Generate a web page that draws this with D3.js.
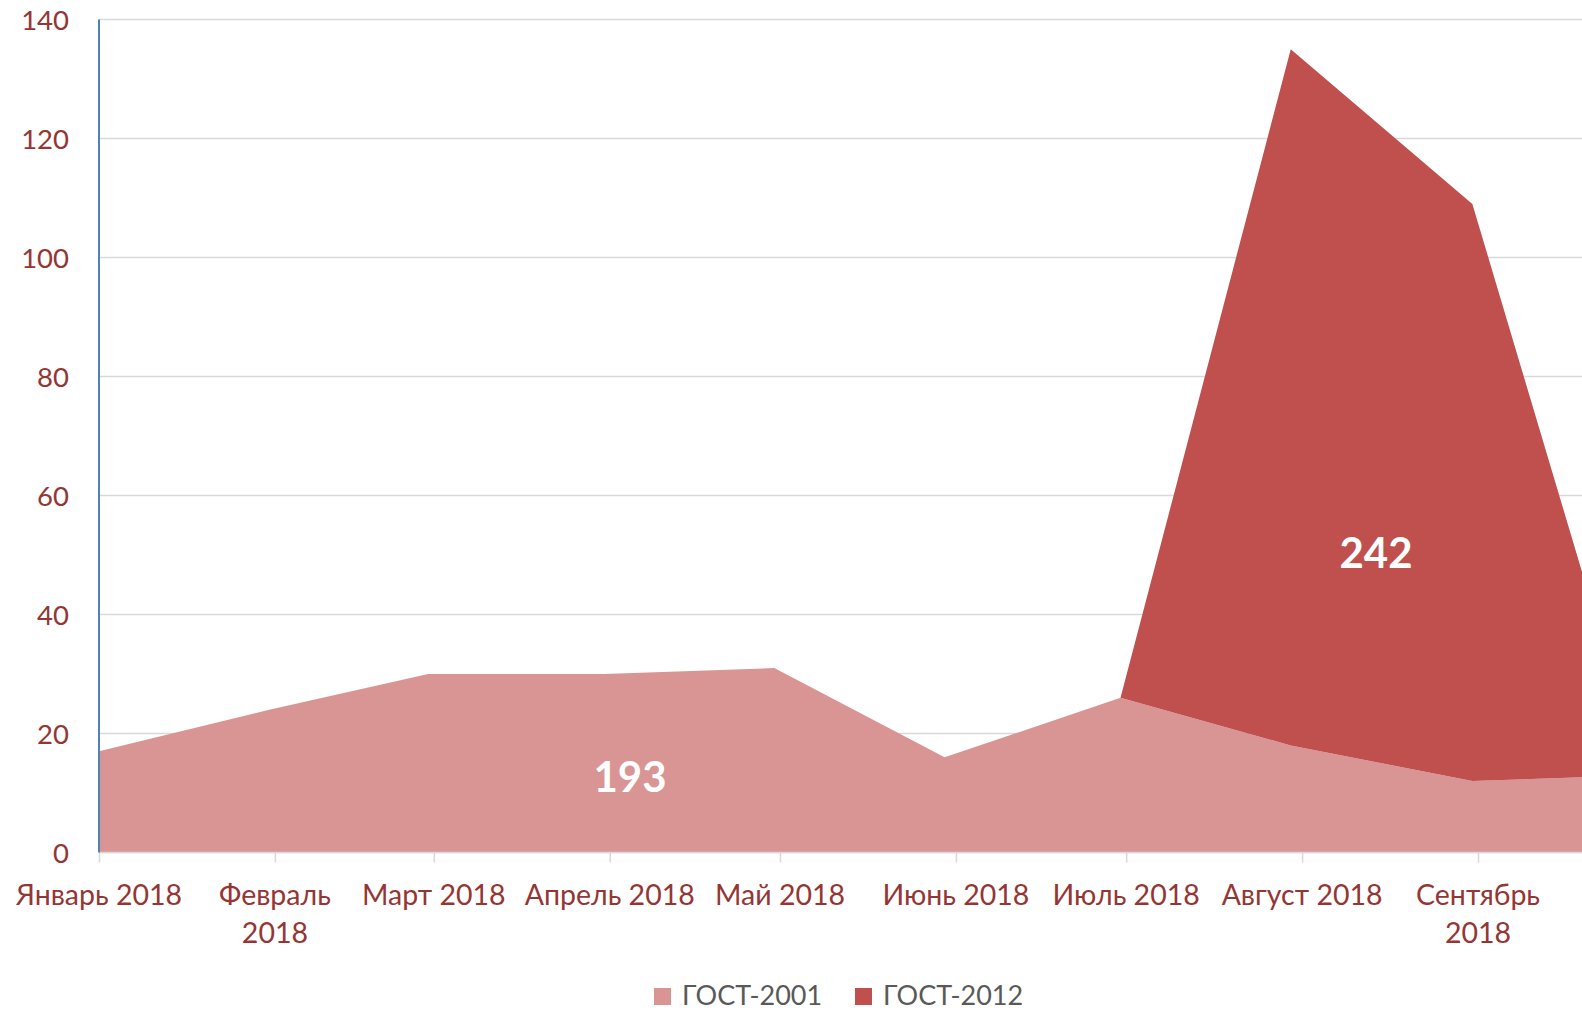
<!DOCTYPE html>
<html>
<head>
<meta charset="utf-8">
<script src="https://cdn.jsdelivr.net/npm/d3@7/dist/d3.min.js"></script>
<style>
  body { margin: 0; background: #fff; }
  text { font-family: Lato, "Open Sans", sans-serif; }
</style>
</head>
<body>
<svg id="chart" width="1582" height="1010"></svg>
<script>
// data (dates are where the points sit on the date axis)
var pointDates = ["2018-01-01", "2018-01-31", "2018-02-28", "2018-03-31", "2018-04-30",
                  "2018-05-30", "2018-06-30", "2018-07-30", "2018-08-31", "2018-09-30"];
var gost2001 = [17, 24, 30, 30, 31, 16, 26, 18, 12, 13];
var gost2012 = [0, 0, 0, 0, 0, 0, 0, 117, 97, 0];
var seriesNames = ["ГОСТ-2001", "ГОСТ-2012"];
var seriesColors = ["#d99594", "#c0504d"];
// october label falls outside the visible picture, so only jan..sep
var tickLabels = [["Январь 2018"], ["Февраль", "2018"], ["Март 2018"], ["Апрель 2018"], ["Май 2018"],
                  ["Июнь 2018"], ["Июль 2018"], ["Август 2018"], ["Сентябрь", "2018"]];
var yTicks = [0, 20, 40, 60, 80, 100, 120, 140];
var areaLabels = ["193", "242"];

var svg = d3.select("#chart");
var width = 1582;

var parse = d3.timeParse("%Y-%m-%d");
var rows = pointDates.map(function(d, i) {
    return { date: parse(d), g2001: gost2001[i], g2012: gost2012[i] };
});

// date axis: about 5.675 px per day, plot starts at x=99 and runs past the right edge
var x = d3.scaleTime()
    .domain([parse("2018-01-01"), parse("2018-10-01")])
    .range([99, 99 + 273 * 5.675]);

var y = d3.scaleLinear()
    .domain([0, 140])
    .range([852.5, 19.5]);

// gridlines
svg.append("g")
    .selectAll("line")
    .data(yTicks)
    .enter().append("line")
    .attr("x1", 99)
    .attr("x2", width)
    .attr("y1", function(d) { return y(d); })
    .attr("y2", function(d) { return y(d); })
    .attr("stroke", "#d9d9d9")
    .attr("stroke-width", 1.5);

// stacked areas
var stack = d3.stack().keys(["g2001", "g2012"]);
var layers = stack(rows);

var area = d3.area()
    .x(function(d) { return x(d.data.date); })
    .y0(function(d) { return y(d[0]); })
    .y1(function(d) { return y(d[1]); });

svg.append("g")
    .selectAll("path")
    .data(layers)
    .enter().append("path")
    .attr("d", area)
    .attr("fill", function(d, i) { return seriesColors[i]; });

// x axis line + ticks
var xAxis = d3.axisBottom(x)
    .ticks(d3.timeMonth.every(1))
    .tickSize(10)
    .tickFormat("");

var xg = svg.append("g")
    .attr("transform", "translate(0," + y(0) + ")")
    .call(xAxis);
xg.select(".domain").attr("stroke", "#d9d9d9").attr("stroke-width", 1.5)
    .attr("d", "M99,0H" + width);
xg.selectAll(".tick line").attr("stroke", "#d9d9d9").attr("stroke-width", 1.5);

// x tick labels, wrapped like in the original
var months = x.ticks(d3.timeMonth.every(1)).slice(0, tickLabels.length);
var lbl = svg.append("g")
    .selectAll("text")
    .data(months)
    .enter().append("text")
    .attr("text-anchor", "middle")
    .attr("fill", "#943634")
    .attr("font-size", 28.5);
lbl.each(function(d, i) {
    var t = d3.select(this);
    tickLabels[i].forEach(function(line, j) {
        t.append("tspan")
            .attr("x", x(d))
            .attr("y", 905 + j * 38)
            .text(line);
    });
});

// y axis (blue line, labels on the left)
svg.append("line")
    .attr("x1", 99).attr("x2", 99)
    .attr("y1", y(140)).attr("y2", y(0))
    .attr("stroke", "#4f81bd")
    .attr("stroke-width", 2);

svg.append("g")
    .selectAll("text")
    .data(yTicks)
    .enter().append("text")
    .attr("x", 69)
    .attr("y", function(d) { return y(d) + 10; })
    .attr("text-anchor", "end")
    .attr("fill", "#943634")
    .attr("font-size", 27.5)
    .text(function(d) { return d; });

// totals written on the areas
var labelPos = [[630, 792], [1376, 568]];
svg.append("g")
    .selectAll("text")
    .data(areaLabels)
    .enter().append("text")
    .attr("x", function(d, i) { return labelPos[i][0]; })
    .attr("y", function(d, i) { return labelPos[i][1]; })
    .attr("text-anchor", "middle")
    .attr("fill", "#fff")
    .attr("font-weight", "bold")
    .attr("font-size", 42)
    .text(function(d) { return d; });

// legend
var legendX = [654, 855];
var leg = svg.append("g")
    .selectAll("g")
    .data(seriesNames)
    .enter().append("g")
    .attr("transform", function(d, i) { return "translate(" + legendX[i] + ",988)"; });
leg.append("rect")
    .attr("width", 17).attr("height", 17)
    .attr("fill", function(d, i) { return seriesColors[i]; });
leg.append("text")
    .attr("x", 28)
    .attr("y", 17)
    .attr("fill", "#595959")
    .attr("font-size", 27)
    .text(function(d) { return d; });
</script>
</body>
</html>
